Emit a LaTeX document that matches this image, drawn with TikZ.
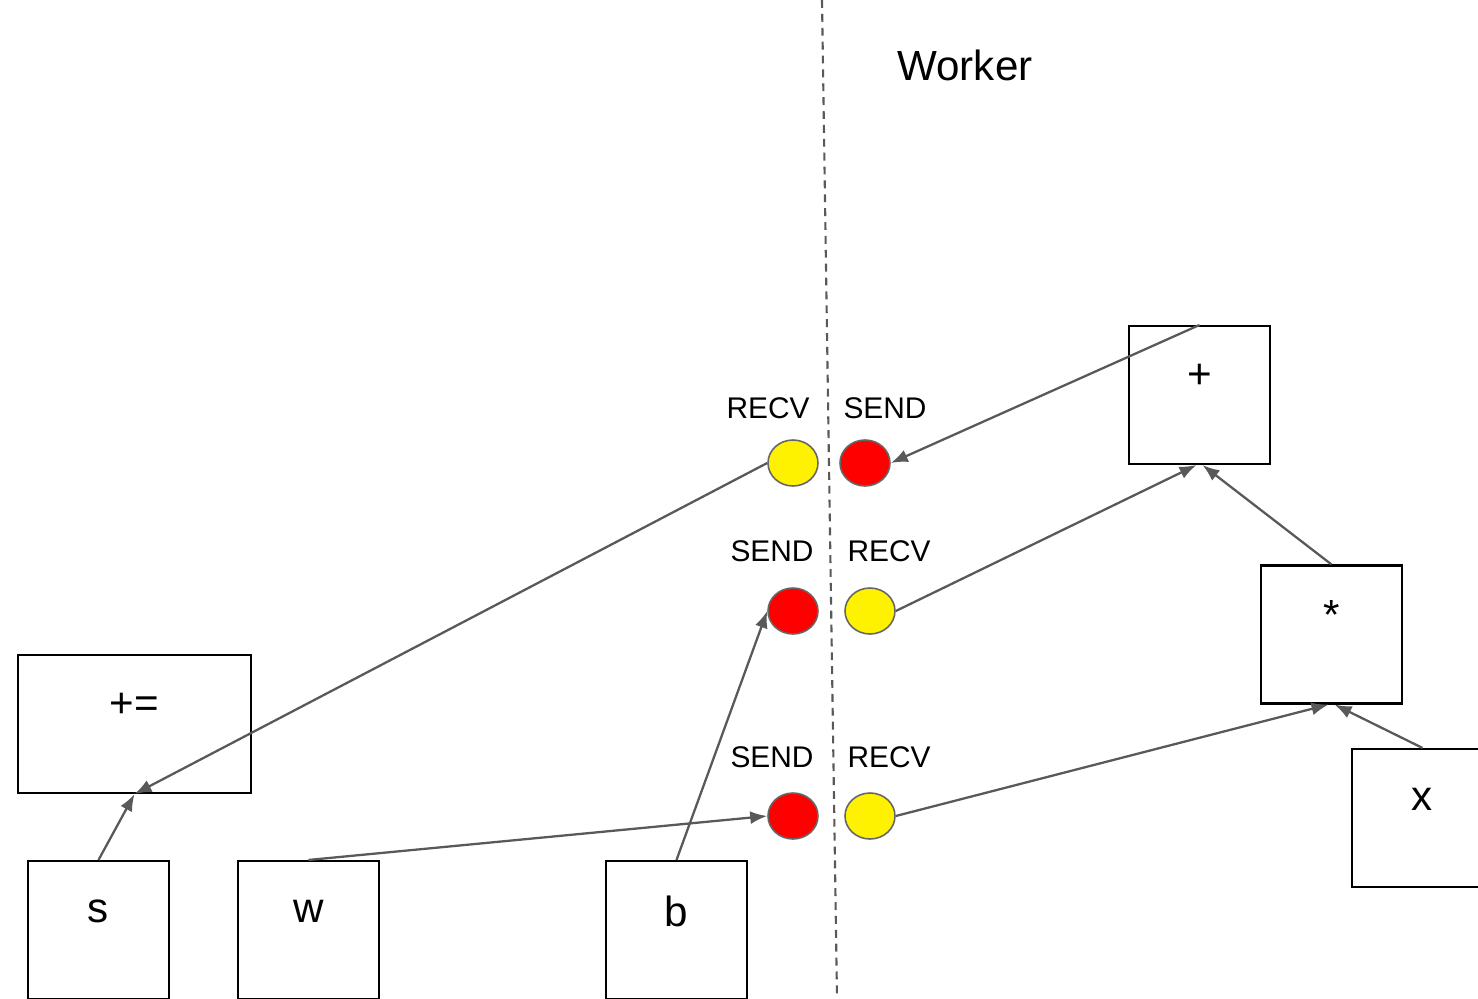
\documentclass[tikz,border=0pt]{standalone}
\usepackage{fontspec}
\setmainfont{Liberation Sans}
\usetikzlibrary{positioning, shapes.geometric, arrows.meta}

\tikzset{
  opbox/.style={draw=black, line width=1.2pt, minimum width=2.82cm, minimum height=2.76cm, inner sep=0pt},
  oplabel/.style={anchor=center, yshift=-1.02cm, font=\fontsize{24}{24}\selectfont},
  tensor/.style={ellipse, draw=black!60, line width=0.9pt, minimum width=1cm, minimum height=0.92cm, inner sep=0pt},
  rpc/.style={font=\fontsize{17}{17}\selectfont},
  flow/.style={draw=black!65, line width=1.3pt, -{Latex[length=3.4mm,width=2.6mm]}},
}

\begin{document}
\begin{tikzpicture}[x=0.02cm,y=-0.02cm]
\useasboundingbox (0,0) rectangle (1478,998);

% device boundary
\coordinate (topsplit) at (822,0);
\coordinate (botsplit) at (837,998);
\draw[black!65, line width=1.2pt, dash pattern=on 4.5pt off 3.4pt] (topsplit) -- (botsplit);
\node[font=\fontsize{24}{24}\selectfont] (worker) at (965,65) {Worker};

% ops
\node[opbox, minimum width=4.66cm, label={[oplabel]north:+=}] (pluseq) at (134.5,724) {};
\node[opbox, label={[oplabel]north:s}] (s) at (98.5,930) {};
\node[opbox, label={[oplabel]north:w}] (w) at (308.5,930) {};
\node[opbox, label={[oplabel]north:b}] (b) at (676.5,930) {};
\node[opbox, label={[oplabel]north:+}] (plus) at (1199.5,395) {};
\node[opbox, label={[oplabel]north:*}] (star) at (1331.5,634.5) {};
\node[opbox, label={[oplabel]north:x}] (x) at (1422.5,818) {};

% send / recv pairs
\node[tensor, fill=yellow] (recvA) at (793,463) {};
\node[tensor, fill=red] (sendA) at (865,463) {};
\node[tensor, fill=red] (sendB) at (793,611) {};
\node[tensor, fill=yellow] (recvB) at (870,611) {};
\node[tensor, fill=red] (sendC) at (793,816) {};
\node[tensor, fill=yellow] (recvC) at (870,816) {};

\node[rpc] (recvAlbl) at (768,408) {RECV};
\node[rpc] (sendAlbl) at (885,408) {SEND};
\node[rpc] (sendBlbl) at (772,551) {SEND};
\node[rpc] (recvBlbl) at (889,551) {RECV};
\node[rpc] (sendClbl) at (772,757) {SEND};
\node[rpc] (recvClbl) at (889,757) {RECV};

% edges
\draw[flow] (plus.north) -- (sendA.east);
\draw[flow] (recvA.west) -- (pluseq.south);
\draw[flow] (s.north) -- (pluseq.south);
\draw[flow] (w.north) -- (sendC.west);
\draw[flow] (b.north) -- (sendB.west);
\draw[flow] (recvB.east) -- ([xshift=-0.06cm]plus.south);
\draw[flow] (star.north) -- ([xshift=0.06cm]plus.south);
\draw[flow] (recvC.east) -- ([xshift=-0.06cm]star.south);
\draw[flow] (x.north) -- ([xshift=0.06cm]star.south);

\end{tikzpicture}
\end{document}
